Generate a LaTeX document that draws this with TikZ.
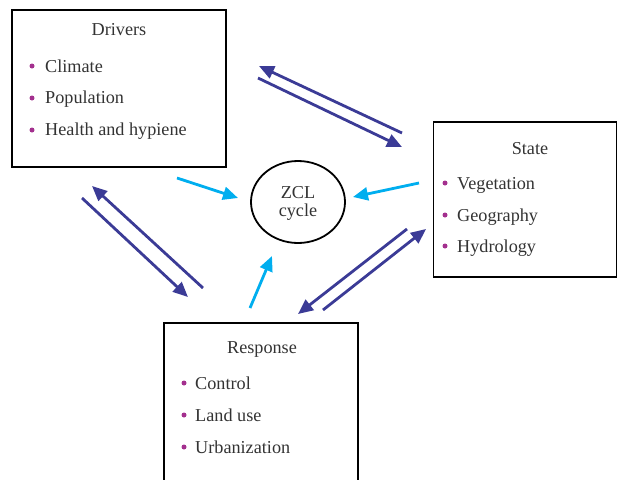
\documentclass[tikz,border=0pt]{standalone}
\usepackage{fontspec}
\setmainfont{Liberation Serif}
\usetikzlibrary{arrows.meta,shapes.geometric}
\definecolor{navy}{HTML}{3B3B96}
\definecolor{sky}{HTML}{00AEEF}
\definecolor{bul}{HTML}{A3308E}
\definecolor{txt}{HTML}{333333}
\begin{document}
\begin{tikzpicture}[x=1pt,y=-1pt,
  box/.style={draw=black, line width=1.5pt, inner sep=0pt, rectangle},
  title/.style={anchor=base, inner sep=0pt, text=txt, font=\fontsize{18.2}{20}\selectfont},
  item/.style={anchor=base west, inner sep=0pt, text=txt, font=\fontsize{18.2}{20}\selectfont},
  dot/.style={circle, fill=bul, inner sep=0pt, minimum size=5pt},
  flow/.style={navy, line width=2.8pt, -{Triangle[length=15pt,width=13pt]}},
  feed/.style={sky, line width=2.8pt, -{Triangle[length=15pt,width=13pt]}}]
\useasboundingbox (0,0) rectangle (618,479);
\clip (0,0) rectangle (618,479);

% boxes
\node[box, minimum width=214pt, minimum height=157pt] (drivers) at (119,88.5) {};
\node[box, minimum width=183pt, minimum height=155pt] (state) at (525,199.5) {};
\node[box, minimum width=194pt, minimum height=180pt] (response) at (261,413) {};
\node[draw=black, line width=1.8pt, ellipse, minimum width=94pt, minimum height=82pt, inner sep=0pt] (zcl) at (298,202) {};
\node[anchor=base, inner sep=0pt, text=txt, align=center, font=\fontsize{18.2}{18}\selectfont] (zcltext) at (298,216) {ZCL\\cycle};

% Drivers
\node[title] (dt) at (119,35) {Drivers};
\node[dot] (d1b) at (32,66) {};
\node[item] (d1) at (45,72) {Climate};
\node[dot] (d2b) at (32,98) {};
\node[item] (d2) at (45,103) {Population};
\node[dot] (d3b) at (32,130) {};
\node[item] (d3) at (45,135) {Health and hypiene};

% State
\node[title] (st) at (530,154) {State};
\node[dot] (s1b) at (445,183) {};
\node[item] (s1) at (457,189) {Vegetation};
\node[dot] (s2b) at (445,215) {};
\node[item] (s2) at (457,221) {Geography};
\node[dot] (s3b) at (445,246) {};
\node[item] (s3) at (457,252) {Hydrology};

% Response
\node[title] (rt) at (262,353) {Response};
\node[dot] (r1b) at (184,383) {};
\node[item] (r1) at (195,389) {Control};
\node[dot] (r2b) at (184,415) {};
\node[item] (r2) at (195,421) {Land use};
\node[dot] (r3b) at (184,447) {};
\node[item] (r3) at (195,453) {Urbanization};

% arrow end points
\coordinate (a1s) at (402,133); \coordinate (a1e) at (259,66);
\coordinate (a2s) at (258,78);  \coordinate (a2e) at (402,147);
\coordinate (b1s) at (203,288); \coordinate (b1e) at (92,186);
\coordinate (b2s) at (82,198);  \coordinate (b2e) at (188,297);
\coordinate (c1s) at (407,229); \coordinate (c1e) at (298,314);
\coordinate (c2s) at (323,310); \coordinate (c2e) at (426,229);
\coordinate (f1s) at (177,178); \coordinate (f1e) at (238,198);
\coordinate (f2s) at (419,183); \coordinate (f2e) at (353,197);
\coordinate (f3s) at (250,308); \coordinate (f3e) at (272,256);

\draw[flow] (a1s) -- (a1e);
\draw[flow] (a2s) -- (a2e);
\draw[flow] (b1s) -- (b1e);
\draw[flow] (b2s) -- (b2e);
\draw[flow] (c1s) -- (c1e);
\draw[flow] (c2s) -- (c2e);
\draw[feed] (f1s) -- (f1e);
\draw[feed] (f2s) -- (f2e);
\draw[feed] (f3s) -- (f3e);
\end{tikzpicture}
\end{document}
